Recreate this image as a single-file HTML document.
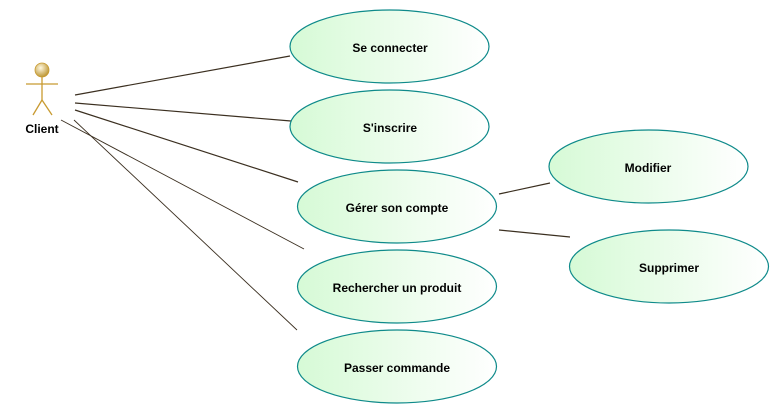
<!DOCTYPE html>
<html><head><meta charset="utf-8"><style>
html,body{margin:0;padding:0;background:#fff;}
svg{display:block;}
text{font-family:"Liberation Sans",Arial,sans-serif;font-weight:bold;font-size:12px;fill:#000;}
</style></head><body>
<svg width="780" height="415" viewBox="0 0 780 415" xmlns="http://www.w3.org/2000/svg">
<defs>
<linearGradient id="g" x1="0" x2="1" y1="0" y2="0">
<stop offset="0" stop-color="#d6fad6"/><stop offset="1" stop-color="#ffffff"/>
</linearGradient>
<radialGradient id="h" cx="0.4" cy="0.35" r="0.7">
<stop offset="0" stop-color="#fff8e0"/><stop offset="1" stop-color="#b8902a"/>
</radialGradient>
</defs>
<g stroke="#3b2f20" stroke-width="1.2">
<line x1="75" y1="95" x2="290" y2="56"/>
<line x1="75" y1="103" x2="291" y2="121"/>
<line x1="75" y1="110" x2="298" y2="182"/>
<line x1="61" y1="120" x2="304" y2="249" stroke-width="0.9"/>
<line x1="74" y1="120" x2="297" y2="330" stroke-width="0.9"/>
<line x1="499" y1="194" x2="550" y2="183"/>
<line x1="499" y1="230" x2="570" y2="237"/>
</g>
<g fill="url(#g)" stroke="#0e8a8a" stroke-width="1.2">
<ellipse cx="389.5" cy="46.5" rx="99.5" ry="36.5"/>
<ellipse cx="389.5" cy="126.5" rx="99.5" ry="36.5"/>
<ellipse cx="397" cy="206.5" rx="99.5" ry="36.5"/>
<ellipse cx="397" cy="286.5" rx="99.5" ry="36.5"/>
<ellipse cx="397" cy="366.5" rx="99.5" ry="36.5"/>
<ellipse cx="648.5" cy="166.5" rx="99.5" ry="36.5"/>
<ellipse cx="669" cy="266.5" rx="99.5" ry="36.5"/>
</g>
<g text-anchor="middle">
<text x="390" y="52">Se connecter</text>
<text x="390" y="132">S'inscrire</text>
<text x="397" y="212">Gérer son compte</text>
<text x="397" y="292">Rechercher un produit</text>
<text x="397" y="372">Passer commande</text>
<text x="648" y="172">Modifier</text>
<text x="669" y="272">Supprimer</text>
<text x="42" y="133">Client</text>
</g>
<g stroke="#c89a30" stroke-width="1.3" fill="none">
<line x1="26" y1="84" x2="58" y2="84"/>
<line x1="42" y1="77" x2="42" y2="100"/>
<line x1="42" y1="100" x2="33" y2="115"/>
<line x1="42" y1="100" x2="52" y2="115"/>
</g>
<circle cx="42" cy="70" r="7" fill="url(#h)" stroke="#c89a30" stroke-width="0.8"/>
</svg>
</body></html>
